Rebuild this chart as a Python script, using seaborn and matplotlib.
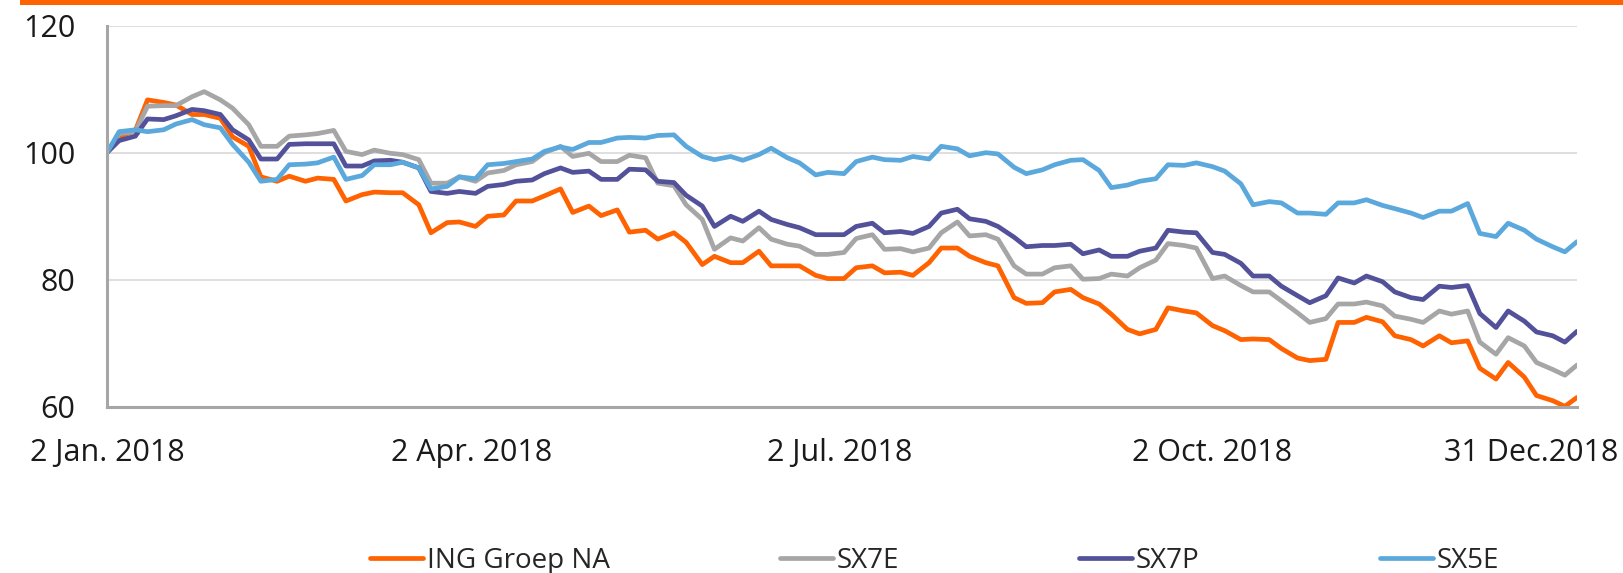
import pandas as pd
import matplotlib
matplotlib.use('Agg')
import matplotlib.pyplot as plt
import matplotlib.transforms as mtransforms
from matplotlib.patches import Rectangle
import seaborn as sns

# Sampling dates: Tuesdays and Fridays of 2018 plus the last trading day
dates = (pd.date_range('2018-01-02', '2018-12-31', freq='W-TUE')
         .union(pd.date_range('2018-01-02', '2018-12-31', freq='W-FRI'))
         .append(pd.DatetimeIndex(['2018-12-31'])))

series_names = ['ING Groep NA', 'SX7E', 'SX7P', 'SX5E']
series_colors = ['#FF6200', '#A6A6A6', '#525199', '#5BA8DC']

ing = [100, 102.5, 103.5, 108.3, 107.9, 107.5, 106, 106, 105.4, 102.5, 101, 96.2, 95.5, 96.3, 95.5,
       96, 95.8, 92.4, 93.4, 93.8, 93.7, 93.7, 91.8, 87.4, 89,
       89.1, 88.4, 90, 90.2, 92.4, 92.4, 93.2, 94.3, 90.6, 91.6, 90.1, 91, 87.5, 87.8, 86.4, 87.4,
       85.9, 82.4, 83.7, 82.7, 82.7, 84.5, 82.2, 82.2, 82.2, 80.7, 80.2, 80.2,
       81.9, 82.2, 81.1, 81.2, 80.7, 82.7, 85, 85, 83.7, 82.7, 82.2, 77.2, 76.3, 76.4, 78.1, 78.5,
       77.2, 76.2, 74.6, 72.2, 71.5, 72.2, 75.6, 75.1, 74.8, 72.8, 72, 70.6,
       70.7, 70.6, 69.2, 67.7, 67.3, 67.5, 73.3, 73.3, 74.1, 73.4, 71.2, 70.6, 69.6, 71.2, 70.1,
       70.4, 66.1, 64.4, 67, 64.7, 61.8, 61, 60.1, 61.5]

sx7e = [100, 103, 103.3, 107.3, 107.4, 107.4, 108.8, 109.6, 108.3, 107, 104.4, 101, 101, 102.6, 102.8,
        103, 103.5, 100.2, 99.7, 100.4, 99.9, 99.7, 98.9, 95.2, 95.2,
        96.2, 95.5, 96.8, 97.2, 98.1, 98.6, 100, 101, 99.4, 99.9, 98.6, 98.6, 99.6, 99.2, 95.2, 94.8,
        91.8, 89.5, 84.8, 86.6, 86.1, 88.2, 86.4, 85.6, 85.3, 84, 84, 84.3,
        86.5, 87.1, 84.8, 84.9, 84.4, 85, 87.4, 89.1, 86.9, 87.1, 86.4, 82.2, 80.9, 80.9, 81.9, 82.2,
        80.1, 80.2, 80.9, 80.6, 81.9, 83.1, 85.7, 85.4, 85, 80.2, 80.6, 79.1,
        78.1, 78.1, 76.7, 74.8, 73.3, 73.9, 76.2, 76.2, 76.5, 75.9, 74.3, 73.8, 73.3, 75.1, 74.6,
        75.1, 70.2, 68.3, 70.9, 69.6, 67, 65.9, 65, 66.6]

sx7p = [100, 101.9, 102.6, 105.3, 105.2, 105.8, 106.8, 106.6, 106, 103.6, 102, 99, 99, 101.3, 101.4,
        101.4, 101.4, 97.9, 97.9, 98.7, 98.8, 98.5, 97.6, 93.9, 93.6,
        93.9, 93.6, 94.7, 95, 95.5, 95.7, 96.7, 97.6, 96.9, 97.1, 95.8, 95.8, 97.4, 97.3, 95.5, 95.3,
        93.3, 91.6, 88.4, 90, 89.2, 90.8, 89.5, 88.7, 88.2, 87.1, 87.1, 87.1,
        88.4, 88.9, 87.4, 87.6, 87.3, 88.4, 90.5, 91.1, 89.6, 89.2, 88.4, 86.7, 85.2, 85.4, 85.4, 85.6,
        84.1, 84.7, 83.7, 83.7, 84.5, 85, 87.8, 87.5, 87.4, 84.3, 84, 82.6,
        80.6, 80.6, 79, 77.5, 76.4, 77.5, 80.3, 79.5, 80.6, 79.7, 78.1, 77.2, 76.9, 79, 78.8,
        79.1, 74.7, 72.5, 75.1, 73.5, 71.8, 71.2, 70.2, 71.9]

sx5e = [100, 103.3, 103.6, 103.3, 103.6, 104.5, 105.2, 104.4, 103.9, 101.3, 98.5, 95.5, 95.8, 98.1, 98.2,
        98.4, 99.3, 95.8, 96.4, 98.1, 98.1, 98.5, 97.6, 94.3, 94.7,
        96.2, 95.9, 98.1, 98.3, 98.6, 99, 100.2, 100.9, 100.5, 101.6, 101.6, 102.3, 102.4, 102.3, 102.7,
        102.8, 101, 99.4, 98.9, 99.4, 98.8, 99.7, 100.7, 99.2, 98.4, 96.5, 96.9, 96.7,
        98.6, 99.3, 98.9, 98.8, 99.4, 99, 101, 100.6, 99.5, 100, 99.8, 97.7, 96.7, 97.3, 98.1, 98.8,
        98.9, 97.2, 94.5, 94.9, 95.5, 95.9, 98.1, 98, 98.4, 97.8, 97.1, 95.1,
        91.8, 92.3, 92.1, 90.5, 90.5, 90.3, 92.1, 92.1, 92.6, 91.7, 91.2, 90.5, 89.8, 90.8, 90.8,
        92, 87.3, 86.8, 88.9, 87.8, 86.4, 85.2, 84.4, 86]

tick_dates = ['2018-01-02', '2018-04-02', '2018-07-02', '2018-10-02', '2018-12-31']
tick_labels = ['2 Jan. 2018', '2 Apr. 2018', '2 Jul. 2018', '2 Oct. 2018', '31 Dec.2018']

# Long-form table for seaborn
df = pd.concat([
    pd.DataFrame({'Date': dates, 'Value': vals, 'Series': name})
    for name, vals in zip(series_names, [ing, sx7e, sx7p, sx5e])
], ignore_index=True)

sns.set_style('white')
plt.rcParams['font.family'] = ['Open Sans', 'DejaVu Sans']

W, H = 1623, 573
fig = plt.figure(figsize=(W / 100, H / 100), dpi=100)
ax = fig.add_axes([107 / W, 1 - 407 / H, (1577 - 107) / W, (407 - 25.5) / H])

# orange bar along the top
fig.add_artist(Rectangle((20 / W, 1 - 5 / H), 1, 5 / H, transform=fig.transFigure,
                         facecolor='#FF6200', edgecolor='none'))

sns.lineplot(data=df, x='Date', y='Value', hue='Series', hue_order=series_names,
             palette=dict(zip(series_names, series_colors)), linewidth=3.4, ax=ax,
             solid_joinstyle='round')

ax.set_xlim(pd.Timestamp('2018-01-02'), pd.Timestamp('2018-12-31'))
ax.set_ylim(60, 120)
ax.set_yticks([60, 80, 100, 120])
ax.set_xticks(pd.to_datetime(tick_dates))
ax.set_xticklabels(tick_labels)
ax.set_xlabel('')
ax.set_ylabel('')

ax.yaxis.grid(True, color='#D9D9D9', linewidth=1.2)
ax.set_axisbelow(True)
for side in ['top', 'right']:
    ax.spines[side].set_visible(False)
for side in ['left', 'bottom']:
    ax.spines[side].set_color('#A6A6A6')
    ax.spines[side].set_linewidth(2.2)

ax.tick_params(axis='y', length=0, pad=23, labelsize=22, labelcolor='#1a1a1a')
ax.tick_params(axis='x', length=0, pad=22, labelsize=22, labelcolor='#1a1a1a')

# last date label sits left of its tick, as in the original
last = ax.get_xticklabels()[-1]
last.set_transform(last.get_transform() + mtransforms.ScaledTranslation(-46 / 100, 0, fig.dpi_scale_trans))

leg = ax.get_legend()
handles = leg.legend_handles
leg.remove()

# one legend entry per slot so each sits where the original has it
legend_left = [370, 780, 1079, 1380]
for h, name, x in zip(handles, series_names, legend_left):
    h.set_solid_capstyle('round')
    fig.legend([h], [name], loc='center left', bbox_to_anchor=(x / W, 1 - 561 / H),
               frameon=False, fontsize=20, borderpad=0, borderaxespad=0,
               handlelength=1.9, handletextpad=0.15)

fig.savefig('out.png', dpi=100)
